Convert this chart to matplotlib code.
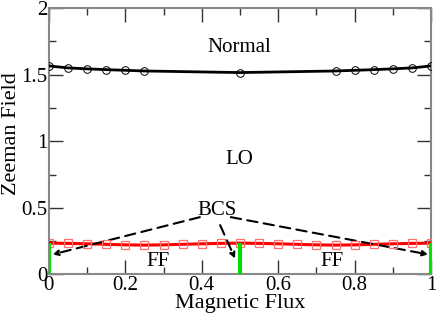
import matplotlib.pyplot as plt
import numpy as np

plt.rcParams["font.family"] = ["Liberation Serif", "DejaVu Serif"]

# Normal / LO boundary (circles)
flux_n = [0.0, 0.05, 0.1, 0.15, 0.2, 0.25, 0.5, 0.75, 0.8, 0.85, 0.9, 0.95, 1.0]
field_n = [1.565, 1.55, 1.543, 1.537, 1.532, 1.527, 1.515, 1.527, 1.532, 1.537, 1.543, 1.55, 1.565]

# LO / FF boundary (squares)
flux_f = [0.0, 0.05, 0.1, 0.15, 0.2, 0.25, 0.3, 0.35, 0.4, 0.45, 0.5,
          0.55, 0.6, 0.65, 0.7, 0.75, 0.8, 0.85, 0.9, 0.95, 1.0]
field_f = [0.235, 0.233, 0.23, 0.226, 0.222, 0.22, 0.222, 0.226, 0.23, 0.233, 0.235,
           0.233, 0.23, 0.226, 0.222, 0.22, 0.222, 0.226, 0.23, 0.233, 0.235]

# BCS segments
bcs_x = [0.0, 0.5, 1.0]
bcs_top = [0.235, 0.235, 0.235]

fig = plt.figure(figsize=(4.36, 3.18), dpi=100)
ax = fig.add_axes([0.112, 0.137, 0.877, 0.838])

ax.plot(flux_n, field_n, color="black", lw=2, zorder=3)
ax.plot(flux_n, field_n, "o", ms=5.5, mfc="none", mec="black", mew=0.7, zorder=4)

ax.plot(flux_f, field_f, color="red", lw=2.2, zorder=3)
ax.plot(flux_f, field_f, "s", ms=5.5, mfc="none", mec="#ff7070", mew=0.9, zorder=4)

ax.vlines(bcs_x, 0, bcs_top, color="#00e000", lw=3, zorder=5)

fs = 15
ax.text(0.497, 1.70, "Normal", ha="center", va="center", fontsize=fs)
ax.text(0.497, 0.86, "LO", ha="center", va="center", fontsize=fs)
ax.text(0.44, 0.48, "BCS", ha="center", va="center", fontsize=fs)
ax.text(0.285, 0.095, "FF", ha="center", va="center", fontsize=fs)
ax.text(0.74, 0.095, "FF", ha="center", va="center", fontsize=fs)

arrow = dict(arrowstyle="-|>", linestyle=(0, (5, 3)), lw=1.5, color="black",
             mutation_scale=8, shrinkA=0, shrinkB=0)
ax.annotate("", xy=(0.01, 0.15), xytext=(0.395, 0.43), arrowprops=arrow)
ax.annotate("", xy=(0.487, 0.12), xytext=(0.448, 0.37), arrowprops=arrow)
ax.annotate("", xy=(0.992, 0.15), xytext=(0.476, 0.43), arrowprops=arrow)

ax.set_xlim(0, 1)
ax.set_ylim(0, 2)
ax.set_xticks(np.arange(0, 1.01, 0.2))
ax.set_xticklabels(["0", "0.2", "0.4", "0.6", "0.8", "1"])
ax.set_xticks(np.arange(0.1, 1.0, 0.2), minor=True)
ax.set_yticks([0, 0.5, 1, 1.5, 2])
ax.set_yticklabels(["0", "0.5", "1", "1.5", "2"])
ax.set_yticks([0.25, 0.75, 1.25, 1.75], minor=True)
ax.tick_params(which="both", direction="in", top=True, right=True, labelsize=fs,
               color="#333333", pad=1)
ax.tick_params(which="major", length=10, width=1)
ax.tick_params(which="minor", length=5, width=1)
for s in ax.spines.values():
    s.set_color("#888888")
    s.set_linewidth(1.5)

ax.set_xlabel("Magnetic Flux", fontsize=16, va="top")
ax.xaxis.set_label_coords(0.5, -0.075)
ax.set_ylabel("Zeeman Field", fontsize=16, va="center")
ax.yaxis.set_label_coords(-0.097, 0.53)

fig.savefig("out.png", dpi=100)
